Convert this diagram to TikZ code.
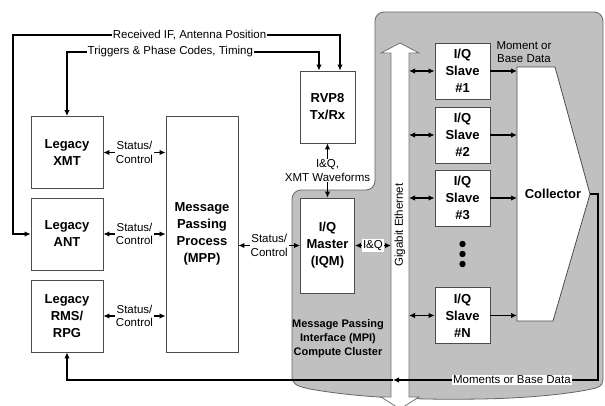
\documentclass[tikz,border=0pt]{standalone}
\usepackage{fontspec}
\setmainfont{Liberation Sans}
\usetikzlibrary{arrows.meta, positioning, calc}
\definecolor{clustergray}{RGB}{192,192,192}

\begin{document}
\begin{tikzpicture}[x=1pt, y=-1pt, >={Latex[length=6pt,width=5.5pt]},
      box/.style={rectangle, draw=black!70, line width=0.8pt, fill=white, align=center, inner sep=0pt, font=\fontsize{13}{17}\selectfont\bfseries},
      legacy/.style={box, minimum width=72pt, minimum height=72pt},
      slave/.style={box, minimum width=55pt, minimum height=56pt},
      conn/.style={line width=1.4pt},
      lbl/.style={fill=white, inner sep=1pt, align=center, font=\fontsize{11.5}{13.5}\selectfont}]

  \useasboundingbox (0,0) rectangle (605,405);

  % Cluster background
  \draw[draw=black!60, line width=0.8pt, fill=clustergray, rounded corners=9pt] (603,300) -- (603,12) -- (375,12) -- (375,190) -- (292,190) -- (292,300) [sharp corners] -- (292,376)
    .. controls (292,384) and (296,386) .. (310,389) .. controls (360,398) and (420,400) .. (480,399)
    .. controls (540,398) and (580,392) .. (596,388) .. controls (602,386) and (603,384) .. (603,376) -- cycle;

  % Gigabit Ethernet
  \draw[draw=black!55, line width=0.8pt, fill=white] (400,43) -- (419,53) -- (409,53) -- (409,397) -- (419,397) -- (400,409) -- (381,397) -- (391,397) -- (391,53) -- (381,53) -- cycle;
  \node[rotate=90, font=\fontsize{11.5}{13.5}\selectfont] (eth) at (400,225) {Gigabit Ethernet};
  \coordinate (ethL) at (391,225);
  \coordinate (ethR) at (409,225);

  % Boxes
  \node[legacy] (xmt) at (67,152.5) {Legacy\\XMT};
  \node[legacy] (ant) at (67,234) {Legacy\\ANT};
  \node[legacy] (rms) at (67,316) {Legacy\\RMS/\\RPG};
  \node[box, minimum width=72pt, minimum height=236pt] (mpp) at (202,234) {Message\\Passing\\Process\\(MPP)};
  \node[box, minimum width=55pt, minimum height=72pt] (rvp) at (327.5,107) {RVP8\\Tx/Rx};
  \node[box, minimum width=54pt, minimum height=95pt] (iqm) at (327.5,245.5) {I/Q\\Master\\(IQM)};
  \node[slave] (s1) at (462.5,71) {I/Q\\Slave\\\#1};
  \node[slave] (s2) at (462.5,135) {I/Q\\Slave\\\#2};
  \node[slave] (s3) at (462.5,198) {I/Q\\Slave\\\#3};
  \node[slave] (sN) at (462.5,315.5) {I/Q\\Slave\\\#N};

  % Collector
  \draw[draw=black!70, line width=0.8pt, fill=white] (517,67) -- (555,67) -- (590,194) -- (553,321) -- (517,321) -- cycle;
  \node[font=\fontsize{13}{17}\selectfont\bfseries] (coll) at (553,194) {Collector};
  \coordinate (collIn) at (517,194);
  \coordinate (collOut) at (590,194);

  \foreach \y in {244,254,264} {
    \fill (462.5,\y) circle (3.2pt);
  }

  % Text
  \node[align=center, font=\fontsize{11.5}{13.5}\selectfont] (momlbl) at (524,52) {Moment or\\Base Data};
  \node[align=center, font=\fontsize{11}{14}\selectfont\bfseries] (mpi) at (338,339) {Message Passing\\Interface (MPI)\\Compute Cluster};

  % Arrows
  \foreach \n in {xmt, ant, rms} {
    \draw[conn, <->] (\n.east) -- (mpp.west |- \n.east) node[midway, lbl] {Status/\\Control};
  }
  \draw[conn, <->] (mpp.east |- iqm.west) -- (iqm.west) node[midway, lbl] {Status/\\Control};
  \draw[conn, <->] (rvp.south) -- (iqm.north) node[midway, lbl] {I\&Q,\\XMT Waveforms};
  \draw[conn, <->] (iqm.east) -- (ethL |- iqm.east) node[midway, lbl] {I\&Q};

  \foreach \sl in {s1, s2, s3, sN} {
    \draw[conn, <->] (ethR |- \sl.west) -- (\sl.west);
    \draw[conn, ->] (\sl.east) -- (collIn |- \sl.east);
  }

  \draw[conn, <->] (ant.west) -- (13,234) -- (13,35) -- node[pos=0.54, lbl] {Received IF, Antenna Position} (340,35) -- ($(rvp.north)+(12.5,0)$);
  \draw[conn, <->] (xmt.north) -- (67,52) -- node[pos=0.41, lbl] {Triggers \& Phase Codes, Timing} (319,52) -- ($(rvp.north)+(-8.5,0)$);

  % Return path
  \coordinate (retMid) at (393,380);
  \draw[conn, ->] (collOut) -- (598,194) -- (598,380) -- node[pos=0.42, lbl] {Moments or Base Data} (retMid);
  \draw[conn, ->] (retMid) -- (67,380) -- (rms.south);
\end{tikzpicture}
\end{document}
